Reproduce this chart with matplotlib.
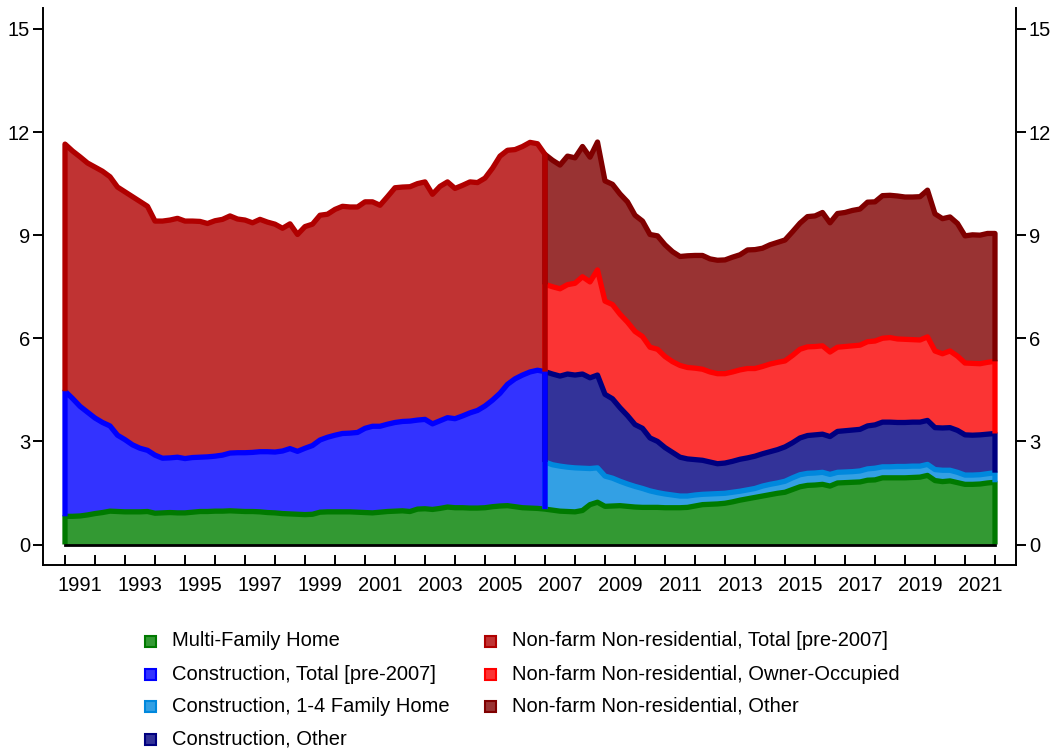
import numpy as np
import matplotlib
matplotlib.use("Agg")
import matplotlib.pyplot as plt
from matplotlib.patches import Rectangle

plt.rcParams['font.family'] = ['Liberation Sans', 'DejaVu Sans']

# quarterly observations, 1991Q1 onwards
start_year = 1991
n_quarters = 125
break_idx = 64  # first quarter of the new (post-2007) breakdown

multi_family = [
    0.82, 0.82, 0.83, 0.86, 0.90, 0.93, 0.97, 0.96, 0.95, 0.95,
    0.95, 0.96, 0.91, 0.92, 0.93, 0.92, 0.92, 0.94, 0.96, 0.96,
    0.97, 0.97, 0.98, 0.97, 0.96, 0.96, 0.95, 0.93, 0.92, 0.90,
    0.89, 0.88, 0.87, 0.88, 0.94, 0.95, 0.95, 0.95, 0.95, 0.94,
    0.93, 0.92, 0.94, 0.96, 0.97, 0.98, 0.96, 1.03, 1.04, 1.02,
    1.05, 1.09, 1.07, 1.07, 1.06, 1.06, 1.07, 1.10, 1.12, 1.13,
    1.10, 1.07, 1.06, 1.05, 1.03, 1.00, 0.97, 0.96, 0.95, 0.99,
    1.16, 1.23, 1.11, 1.12, 1.13, 1.11, 1.09, 1.08, 1.08, 1.08,
    1.07, 1.07, 1.07, 1.08, 1.12, 1.16, 1.17, 1.18, 1.20, 1.24,
    1.29, 1.33, 1.37, 1.41, 1.45, 1.49, 1.52, 1.60, 1.68, 1.72,
    1.73, 1.75, 1.70, 1.79, 1.80, 1.81, 1.82, 1.87, 1.88, 1.94,
    1.94, 1.94, 1.94, 1.95, 1.96, 2.01, 1.86, 1.83, 1.85, 1.80,
    1.75, 1.75, 1.76, 1.79, 1.81]

# pre-2007 series (1991Q1 - 2007Q1)
constr_total_pre = [
    3.64, 3.43, 3.19, 2.99, 2.78, 2.62, 2.48, 2.22, 2.10, 1.95,
    1.85, 1.78, 1.69, 1.59, 1.59, 1.62, 1.58, 1.59, 1.58, 1.59,
    1.60, 1.63, 1.68, 1.70, 1.71, 1.72, 1.75, 1.77, 1.77, 1.82,
    1.90, 1.83, 1.93, 2.00, 2.10, 2.17, 2.23, 2.28, 2.29, 2.32,
    2.45, 2.52, 2.50, 2.54, 2.58, 2.60, 2.63, 2.59, 2.60, 2.49,
    2.55, 2.60, 2.59, 2.67, 2.77, 2.84, 2.96, 3.10, 3.28, 3.53,
    3.72, 3.86, 3.96, 4.02, 4.00]

nonres_total_pre = [
    7.19, 7.20, 7.26, 7.25, 7.30, 7.31, 7.25, 7.22, 7.21, 7.22,
    7.18, 7.10, 6.81, 6.90, 6.92, 6.95, 6.91, 6.88, 6.86, 6.79,
    6.85, 6.86, 6.90, 6.80, 6.77, 6.68, 6.76, 6.68, 6.63, 6.48,
    6.54, 6.31, 6.45, 6.44, 6.54, 6.49, 6.57, 6.61, 6.58, 6.56,
    6.59, 6.53, 6.43, 6.62, 6.83, 6.82, 6.82, 6.88, 6.91, 6.68,
    6.82, 6.86, 6.70, 6.71, 6.72, 6.63, 6.63, 6.75, 6.90, 6.81,
    6.67, 6.65, 6.68, 6.59, 6.32]

# post-2007 series (2007Q1 onwards)
constr_family14 = [
    1.37, 1.32, 1.31, 1.29, 1.28, 1.23, 1.05, 1.00, 0.88, 0.81,
    0.71, 0.65, 0.60, 0.55, 0.48, 0.43, 0.40, 0.37, 0.34, 0.33,
    0.32, 0.30, 0.30, 0.30, 0.29, 0.28, 0.26, 0.26, 0.26, 0.29,
    0.30, 0.30, 0.32, 0.34, 0.35, 0.35, 0.35, 0.35, 0.34, 0.31,
    0.31, 0.31, 0.32, 0.33, 0.34, 0.32, 0.32, 0.33, 0.33, 0.33,
    0.32, 0.32, 0.32, 0.33, 0.31, 0.30, 0.27, 0.27, 0.27, 0.27,
    0.28]

constr_other = [
    2.63, 2.64, 2.62, 2.71, 2.70, 2.74, 2.64, 2.70, 2.38, 2.31,
    2.14, 1.99, 1.80, 1.75, 1.54, 1.49, 1.35, 1.24, 1.13, 1.08,
    1.03, 0.99, 0.93, 0.87, 0.88, 0.90, 0.93, 0.93, 0.94, 0.94,
    0.95, 0.97, 1.00, 1.02, 1.07, 1.10, 1.11, 1.11, 1.10, 1.19,
    1.20, 1.21, 1.21, 1.25, 1.26, 1.30, 1.30, 1.28, 1.28, 1.28,
    1.28, 1.28, 1.22, 1.23, 1.24, 1.22, 1.17, 1.16, 1.16, 1.15,
    1.14]

nonres_owner = [
    2.54, 2.54, 2.54, 2.60, 2.67, 2.83, 2.79, 3.06, 2.71, 2.74,
    2.72, 2.72, 2.71, 2.67, 2.64, 2.68, 2.65, 2.64, 2.67, 2.66,
    2.66, 2.65, 2.62, 2.62, 2.60, 2.60, 2.60, 2.60, 2.55, 2.54,
    2.55, 2.54, 2.50, 2.54, 2.58, 2.58, 2.57, 2.57, 2.46, 2.45,
    2.45, 2.45, 2.45, 2.45, 2.44, 2.44, 2.46, 2.43, 2.42, 2.40,
    2.39, 2.43, 2.23, 2.16, 2.23, 2.16, 2.09, 2.09, 2.07, 2.09,
    2.10]

nonres_other = [
    3.78, 3.68, 3.60, 3.74, 3.65, 3.79, 3.63, 3.72, 3.50, 3.50,
    3.50, 3.50, 3.38, 3.36, 3.28, 3.30, 3.25, 3.20, 3.17, 3.25,
    3.28, 3.31, 3.29, 3.30, 3.31, 3.34, 3.35, 3.45, 3.46, 3.44,
    3.47, 3.49, 3.52, 3.60, 3.67, 3.79, 3.80, 3.88, 3.76, 3.89,
    3.90, 3.94, 3.96, 4.06, 4.05, 4.15, 4.14, 4.16, 4.14, 4.15,
    4.17, 4.27, 3.99, 3.93, 3.90, 3.86, 3.70, 3.74, 3.74, 3.75,
    3.72]

labels = ['Multi-Family Home', 'Construction, Total [pre-2007]',
          'Construction, 1-4 Family Home', 'Construction, Other',
          'Non-farm Non-residential, Total [pre-2007]',
          'Non-farm Non-residential, Owner-Occupied',
          'Non-farm Non-residential, Other']
edge_colors = ['#007a00', '#0000ff', '#0088dd', '#000080', '#b00000', '#ff0000', '#800000']
fill_colors = ['#339933', '#3333ff', '#33a0e4', '#333399', '#c03333', '#fb3434', '#993333']

x = start_year + 0.25 * np.arange(n_quarters)
x_pre = x[:break_idx + 1]
x_post = x[break_idx:]


def draw_layer(ax, xs, lo, hi, fill, edge):
    ax.fill_between(xs, lo, hi, color=fill, lw=0, zorder=2)
    ox = np.r_[xs[0], xs, xs[-1]]
    oy = np.r_[lo[0], hi, lo[-1]]
    ax.plot(ox, oy, color=edge, lw=3.8, solid_joinstyle='round',
            solid_capstyle='butt', zorder=3)


fig = plt.figure(figsize=(10.57, 7.52), dpi=100)
ax = fig.add_axes([43 / 1057, 187 / 752, 973 / 1057, 557 / 752])

mf = np.array(multi_family)
zero = np.zeros(n_quarters)
draw_layer(ax, x, zero, mf, fill_colors[0], edge_colors[0])

# post-2007 stack
base = mf[break_idx:]
for vals, k in [(constr_family14, 2), (constr_other, 3), (nonres_owner, 5), (nonres_other, 6)]:
    top = base + np.array(vals)
    draw_layer(ax, x_post, base, top, fill_colors[k], edge_colors[k])
    base = top

# pre-2007 stack
base = mf[:break_idx + 1]
for vals, k in [(constr_total_pre, 1), (nonres_total_pre, 4)]:
    top = base + np.array(vals)
    draw_layer(ax, x_pre, base, top, fill_colors[k], edge_colors[k])
    base = top

ax.plot([x[0], x[-1]], [0, 0], color='black', lw=2.0, zorder=4)

ax.set_xlim(start_year - 22 / 30, start_year + 951 / 30)
ax.set_ylim(-20.5 / 34.37, 536.5 / 34.37)

for s in ['left', 'right', 'bottom']:
    ax.spines[s].set_linewidth(1.4)
ax.spines['top'].set_visible(False)

fs = 14.5
yt = [0, 3, 6, 9, 12, 15]
ax.set_yticks(yt)
ax.set_yticklabels([str(v) for v in yt])
ax.tick_params(axis='y', direction='out', length=7.2, width=1.4, labelsize=fs,
               left=True, right=True, labelleft=True, labelright=True, pad=2)

years = np.arange(1991, 2023)
ax.set_xticks(years)
ax.set_xticklabels([''] * len(years))
odd_years = np.arange(1991, 2022, 2)
ax.set_xticks(odd_years + 0.5, minor=True)
ax.set_xticklabels([str(y) for y in odd_years], minor=True)
ax.tick_params(axis='x', which='major', direction='in', length=7.2, width=1.4)
ax.tick_params(axis='x', which='minor', length=0, labelsize=fs, pad=8)

# legend laid out as in the original (two columns)
legend_pos = [(150, 641), (150, 674), (150, 706), (150, 739),
              (490, 641), (490, 674), (490, 706)]
W, H = 1057, 752
for i, (lab, (px, py)) in enumerate(zip(labels, legend_pos)):
    sq = 11
    fig.add_artist(Rectangle(((px - sq / 2) / W, 1 - (py + sq / 2) / H), sq / W, sq / H,
                             transform=fig.transFigure, facecolor=fill_colors[i],
                             edgecolor=edge_colors[i], lw=1.5))
    fig.text((px + 22) / W, 1 - py / H, lab, fontsize=fs, va='center', ha='left')

fig.savefig('out.png', dpi=100)
